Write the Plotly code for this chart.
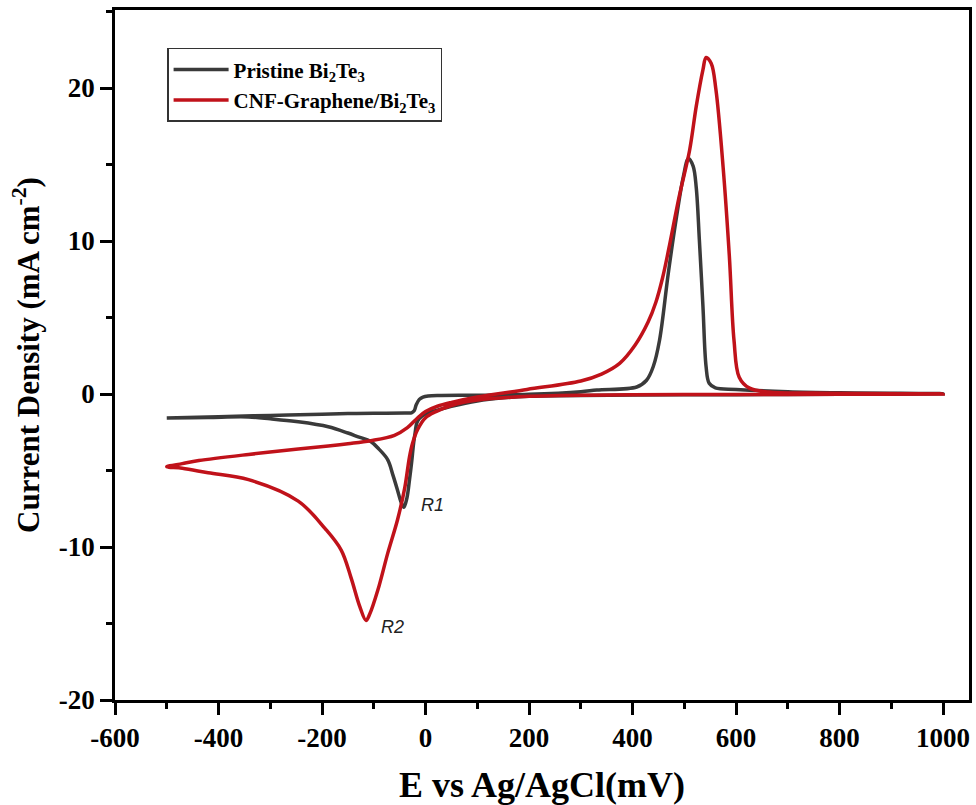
import plotly.graph_objects as go

# Pristine Bi2Te3 (forward scan from -500 mV, then return from 1000 mV)
pristine_x = [-500, -400, -300, -200, -150, -100, -40, -27, -22, -18, -12, -5, 5, 30, 100, 200, 300, 331, 408,
              427, 440, 452, 469, 485, 498, 508, 517, 523, 529, 536, 542, 548, 560, 600, 700, 800, 1000,
              800, 600, 400, 200, 150, 100, 50, 23, 0, -12, -17, -20, -23, -27, -31, -36, -42,
              -48, -54, -63, -73, -90, -106, -130, -150, -188, -250, -300, -342, -420, -500]
pristine_y = [-1.57, -1.48, -1.4, -1.32, -1.28, -1.26, -1.24, -1.23, -1.1, -0.7, -0.35, -0.2, -0.13, -0.1, -0.08, -0.02, 0.15, 0.26, 0.46,
              0.9, 1.8, 3.5, 7.9, 11.6, 14.2, 15.4, 14.9, 13.5, 10.1, 5.7, 1.8, 0.7, 0.4, 0.3, 0.15, 0.08, 0.02,
              -0.02, -0.04, -0.07, -0.15, -0.25, -0.45, -0.8, -1.05, -1.3, -1.6, -1.9, -2.5, -3.2, -4.5, -5.6, -6.8, -7.4,
              -7.0, -6.3, -5.3, -4.3, -3.6, -3.1, -2.8, -2.55, -2.14, -1.8, -1.62, -1.5, -1.53, -1.57]

# CNF-Graphene/Bi2Te3
cnf_x = [-500, -470, -438, -342, -246, -188, -150, -106, -60, -35, -15, 0, 23, 50, 100, 196, 300, 340, 375, 405,
         430, 445, 458, 470, 490, 510, 523, 536, 542, 552, 561, 575, 587, 596, 606, 625, 663, 750, 1000,
         800, 600, 400, 200, 100, 50, 20, 0, -15, -25, -31, -40, -54, -73, -92, -108, -115,
         -127, -144, -163, -194, -246, -342, -420, -470, -500]
cnf_y = [-4.75, -4.55, -4.35, -3.95, -3.6, -3.4, -3.25, -3.05, -2.7, -2.2, -1.55, -1.15, -0.8, -0.55, -0.2, 0.3, 0.85, 1.3, 2.0, 3.2,
         4.7, 6.0, 7.6, 9.5, 12.9, 15.9, 18.8, 21.2, 22.0, 21.6, 19.9, 14.8, 9.0, 3.5, 1.1, 0.4, 0.13, 0.06, 0.0,
         -0.02, -0.03, -0.05, -0.15, -0.4, -0.75, -1.15, -1.55, -2.3, -3.2, -4.1, -6.1, -8.2, -10.4, -12.8, -14.4, -14.8,
         -13.9, -12.0, -10.2, -8.8, -7.0, -5.6, -5.15, -4.85, -4.75]

x_ticks = [-600, -400, -200, 0, 200, 400, 600, 800, 1000]
x_ticktext = ["-600", "-400", "-200", "0", "200", "400", "600", "800", "1000"]
y_ticks = [-20, -10, 0, 10, 20]
y_ticktext = ["-20", "-10", "0", "10", "20"]

peak_labels = ["R1", "R2"]
peak_label_x = [13, -63]
peak_label_y = [-7.25, -15.2]

fig = go.Figure()
fig.add_trace(go.Scatter(x=pristine_x, y=pristine_y, mode="lines",
                         name="Pristine Bi<sub>2</sub>Te<sub>3</sub>",
                         line=dict(color="#3a3a3a", width=3.5, shape="spline", smoothing=1.0)))
fig.add_trace(go.Scatter(x=cnf_x, y=cnf_y, mode="lines",
                         name="CNF-Graphene/Bi<sub>2</sub>Te<sub>3</sub>",
                         line=dict(color="#c0121a", width=3.5, shape="spline", smoothing=1.0)))

for t, ax_, ay_ in zip(peak_labels, peak_label_x, peak_label_y):
    fig.add_annotation(x=ax_, y=ay_, text=t, showarrow=False,
                       font=dict(family="Liberation Sans", size=18, color="#222222", style="italic"))

tickfont = dict(family="Liberation Serif", size=27, color="black", weight=700)

fig.update_layout(
    width=976, height=805,
    margin=dict(l=115, r=7, t=10, b=105),
    paper_bgcolor="white", plot_bgcolor="white",
    showlegend=True,
    legend=dict(x=0.061, y=0.945, xanchor="left", yanchor="top",
                bordercolor="#333333", borderwidth=1.5, bgcolor="white",
                font=dict(family="Liberation Serif", size=21, color="black", weight=700),
                itemwidth=55, tracegroupgap=0),
)
fig.update_xaxes(range=[-600, 1050], tickmode="array", tickvals=x_ticks, ticktext=x_ticktext,
                 showgrid=False, zeroline=False, automargin=False,
                 showline=True, linecolor="black", linewidth=2.5, mirror=True,
                 ticks="outside", ticklen=12, tickwidth=3, tickcolor="black",
                 minor=dict(tickmode="linear", tick0=-600, dtick=100, ticks="outside", ticklen=6,
                            tickwidth=3, tickcolor="black", showgrid=False),
                 tickfont=tickfont,
                 title=dict(text="E vs Ag/AgCl(mV)",
                            font=dict(family="Liberation Serif", size=36, color="black", weight=700),
                            standoff=32))
fig.update_yaxes(range=[-20, 25.1], tickmode="array", tickvals=y_ticks, ticktext=y_ticktext,
                 showgrid=False, zeroline=False, automargin=False,
                 showline=True, linecolor="black", linewidth=2.5, mirror=True,
                 ticks="outside", ticklen=12, tickwidth=3, tickcolor="black",
                 minor=dict(tickmode="linear", tick0=-20, dtick=5, ticks="outside", ticklen=6,
                            tickwidth=3, tickcolor="black", showgrid=False),
                 tickfont=tickfont,
                 title=dict(text="Current Density (mA cm<sup>-2</sup>)",
                            font=dict(family="Liberation Serif", size=31, color="black", weight=700),
                            standoff=10))

fig.write_html("out.html", config={"displayModeBar": False},
               post_script="document.body.style.margin='0';document.body.style.overflow='hidden';")
